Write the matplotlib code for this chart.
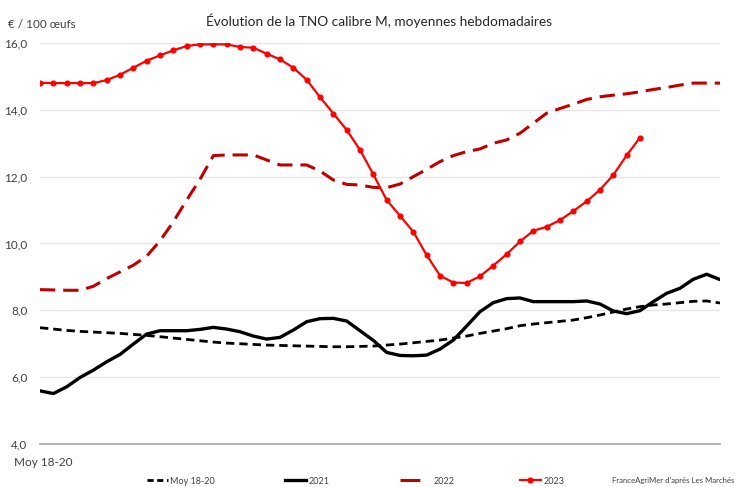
import matplotlib
matplotlib.use("Agg")
import matplotlib.pyplot as plt
import numpy as np
from matplotlib.lines import Line2D

plt.rcParams['font.family'] = ['Lato', 'DejaVu Sans']

weeks = list(range(1, 53))

moy_18_20 = [7.48, 7.44, 7.40, 7.37, 7.35, 7.33, 7.31, 7.28, 7.25, 7.21,
             7.17, 7.13, 7.09, 7.05, 7.02, 7.00, 6.98, 6.96, 6.95, 6.94,
             6.93, 6.92, 6.91, 6.91, 6.92, 6.93, 6.96, 6.99, 7.03, 7.07,
             7.11, 7.17, 7.23, 7.31, 7.38, 7.45, 7.54, 7.59, 7.63, 7.67,
             7.71, 7.78, 7.86, 7.95, 8.04, 8.11, 8.16, 8.19, 8.23, 8.27,
             8.28, 8.22]

y2021 = [5.59, 5.51, 5.71, 5.99, 6.21, 6.46, 6.68, 6.99, 7.29, 7.39,
         7.39, 7.39, 7.43, 7.49, 7.44, 7.36, 7.23, 7.14, 7.19, 7.41,
         7.66, 7.75, 7.76, 7.68, 7.39, 7.10, 6.74, 6.65, 6.64, 6.66,
         6.84, 7.11, 7.53, 7.96, 8.23, 8.35, 8.37, 8.26, 8.26, 8.26,
         8.26, 8.28, 8.19, 7.98, 7.90, 7.99, 8.26, 8.51, 8.66, 8.93,
         9.08, 8.92]

y2022 = [8.62, 8.61, 8.60, 8.60, 8.72, 8.95, 9.15, 9.35, 9.62, 10.08,
         10.65, 11.30, 11.92, 12.63, 12.65, 12.65, 12.65, 12.50, 12.35, 12.35,
         12.35, 12.17, 11.90, 11.77, 11.75, 11.68, 11.67, 11.78, 12.00, 12.22,
         12.45, 12.63, 12.75, 12.83, 13.00, 13.10, 13.30, 13.60, 13.90, 14.04,
         14.17, 14.31, 14.39, 14.44, 14.48, 14.54, 14.61, 14.67, 14.74, 14.80,
         14.80, 14.80]

y2023 = [14.81, 14.80, 14.80, 14.80, 14.80, 14.89, 15.05, 15.26, 15.47, 15.63,
         15.78, 15.91, 15.96, 15.96, 15.96, 15.88, 15.86, 15.68, 15.51, 15.26,
         14.90, 14.38, 13.89, 13.40, 12.80, 12.07, 11.30, 10.83, 10.35, 9.65,
         9.04, 8.83, 8.82, 9.02, 9.34, 9.68, 10.06, 10.38, 10.50, 10.70,
         10.97, 11.26, 11.61, 12.05, 12.64, 13.17]

yticks = [4, 6, 8, 10, 12, 14, 16]
ytick_labels = ["4,0", "6,0", "8,0", "10,0", "12,0", "14,0", "16,0"]

fig = plt.figure(figsize=(7.35, 4.87), dpi=100)
ax = fig.add_axes([40/735, 1-444/487, 680/735, 401/487])

x_all = np.arange(len(weeks))
ax.plot(x_all, moy_18_20, color='black', lw=2.0, dashes=(3, 1.8), label='Moy 18-20', zorder=3)
ax.plot(x_all, y2021, color='black', lw=2.4, label='2021', zorder=3)
ax.plot(x_all, y2022, color='#C00000', lw=2.2, dashes=(5, 2.6), label='2022', zorder=3)
ax.plot(np.arange(len(y2023)), y2023, color='#FF0000', lw=1.6, marker='o', ms=3.4,
        label='2023', zorder=4)

ax.set_xlim(0, len(weeks) - 1)
ax.set_ylim(4, 16)
ax.set_yticks(yticks)
ax.set_yticklabels(ytick_labels)
ax.set_xticks([])
ax.grid(axis='y', color='#e6e6e6', lw=1.0, zorder=0)
for s in ['left', 'right', 'top']:
    ax.spines[s].set_visible(False)
ax.spines['bottom'].set_color('#a6a6a6')
ax.spines['bottom'].set_linewidth(1.2)
ax.tick_params(axis='y', length=0, pad=9, labelsize=8.5, labelcolor='#404040')

fig.text(8/735, 1-24/487, "€ / 100 œufs", fontsize=8.5, color='#404040', va='center', ha='left')
fig.text(379/735, 1-21/487, "Évolution de la TNO calibre M, moyennes hebdomadaires",
         fontsize=9.8, color='#262626', va='center', ha='center')
fig.text(14/735, 1-462/487, "Moy 18-20", fontsize=8.5, color='#404040', va='center', ha='left')

# Legend entries placed individually
h_moy = Line2D([], [], color='black', lw=2.0, dashes=(2.2, 1.3))
h21 = Line2D([], [], color='black', lw=2.4)
h22 = Line2D([], [], color='#C00000', lw=2.2, dashes=(6.5, 10))
h23 = Line2D([], [], color='#FF0000', lw=1.6, marker='o', ms=3.4)
entries = [(h_moy, 'Moy 18-20', 147, 2.3),
           (h21, '2021', 285, 2.3),
           (h22, '2022', 400, 3.4),
           (h23, '2023', 520, 2.3)]
for h, lab, xpix, hl in entries:
    lg = fig.legend([h], [lab], loc='center left', bbox_to_anchor=(xpix/735, 1-481/487),
                    frameon=False, fontsize=6.5, handlelength=hl, handletextpad=0.3,
                    borderpad=0, borderaxespad=0, numpoints=1)
    for t in lg.get_texts():
        t.set_color('#404040')

fig.text(612/735, 1-480/487, "FranceAgriMer d'après Les Marchés", fontsize=5.6, color='#404040',
         va='center', ha='left')

fig.savefig("out.png", dpi=100)
